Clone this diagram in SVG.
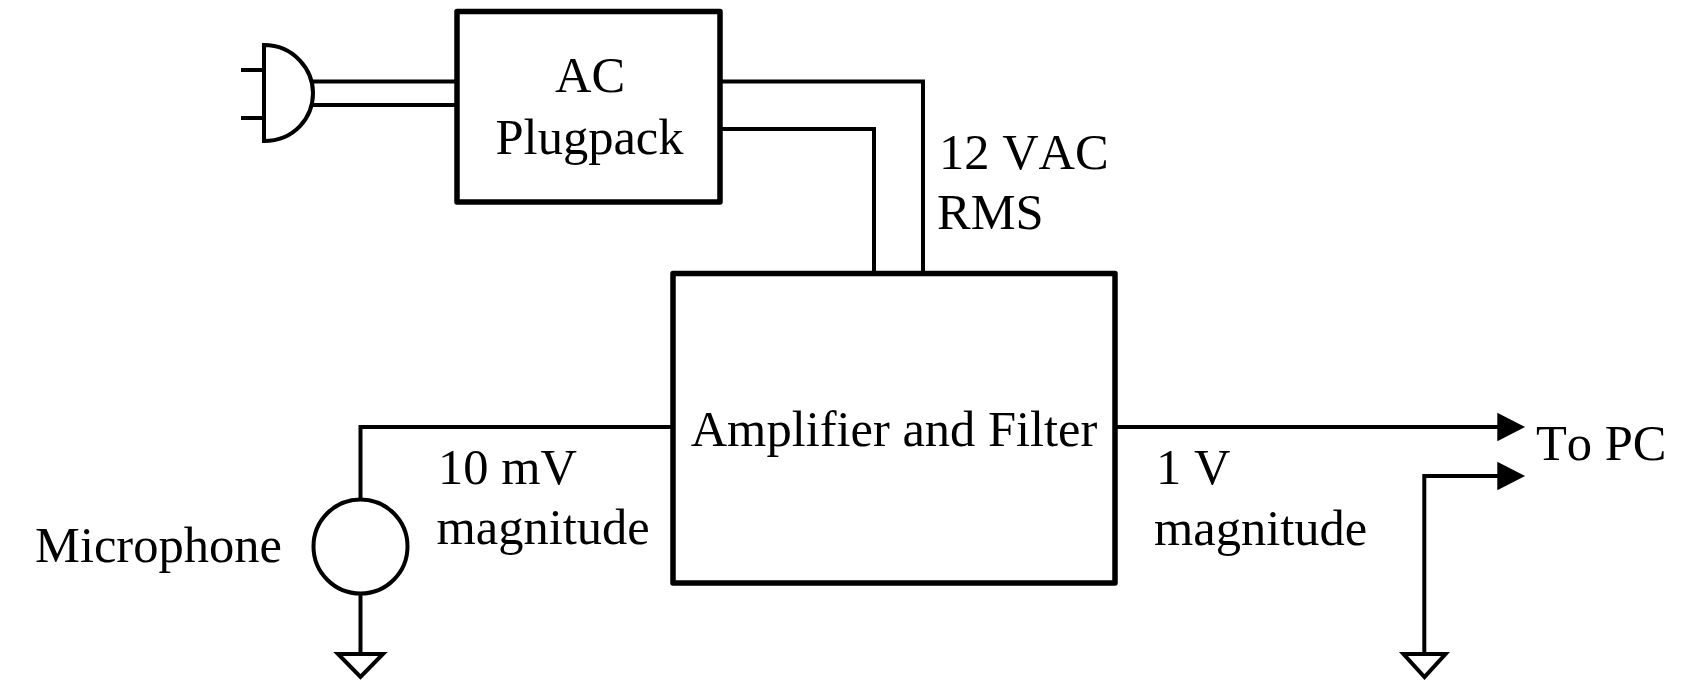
<svg xmlns="http://www.w3.org/2000/svg" width="1702" height="696" viewBox="0 0 1702 696">
<style>
.t{font-family:"Liberation Serif","Times New Roman",serif;font-size:50.500px;fill:#000;font-kerning:none}
.m{text-anchor:middle}
.box{fill:#fff;stroke:#000;stroke-width:5.500;stroke-linejoin:round}
.w{fill:none;stroke:#000;stroke-width:4}
</style>
<rect width="1702" height="696" fill="#fff"/>
<g id="connectors" class="w">
<path class="w" d="M313 81.500H457M313 105H457"/>
<path class="w" d="M720 81.500H923V273M720 129H874V273"/>
<path class="w" d="M673 427H360.500V499"/>
<path class="w" d="M360.500 594V654"/>
<path class="w" d="M1115 427H1505"/>
<path class="w" d="M1424.300 654V476H1505"/>
<path d="M1499.300 416L1520.700 427L1499.300 438Z M1499.300 465L1520.700 476L1499.300 487Z" fill="#000"/>
</g>
<g id="plug"><path class="w" d="M264 45C294 45 313 70 313 93C313 118 294 141 264 141ZM241 70H264M241 118H264"/></g>
<g id="ac-plugpack"><rect class="box" x="457" y="11.500" width="263" height="190.500"/>
<text class="t m" x="590" y="92">AC</text><text class="t m" x="589.500" y="154">Plugpack</text></g>
<g id="amplifier-filter"><rect class="box" x="673" y="273.500" width="442" height="309.500"/>
<text class="t m" x="894" y="446">Amplifier and Filter</text></g>
<g id="microphone"><ellipse class="w" cx="360.500" cy="546.500" rx="47" ry="47"/>
<text class="t" x="35" y="562">Microphone</text></g>
<g id="ground-mic"><path class="w" d="M338 654H383L360.500 677Z"/></g>
<g id="ground-pc"><path class="w" d="M1403.500 654H1445.500L1424.500 677Z"/></g>
<g id="labels">
<text class="t" x="939" y="169">12 VAC</text><text class="t" x="937" y="229">RMS</text>
<text class="t" x="438" y="484">10 mV</text><text class="t" x="436.500" y="544">magnitude</text>
<text class="t" x="1156" y="484">1 V</text><text class="t" x="1154" y="545">magnitude</text>
<text class="t" x="1536" y="460">To PC</text>
</g>
</svg>
